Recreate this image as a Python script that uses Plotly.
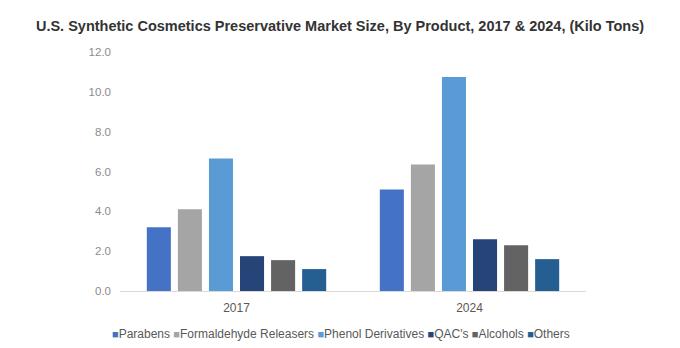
import plotly.graph_objects as go

years = ["2017", "2024"]
products = ["Parabens", "Formaldehyde Releasers", "Phenol Derivatives", "QAC's", "Alcohols", "Others"]
parabens = [3.2, 5.1]
formaldehyde = [4.1, 6.35]
phenol = [6.65, 10.75]
qacs = [1.75, 2.6]
alcohols = [1.55, 2.3]
others = [1.1, 1.6]
colors = ["#4472C4", "#A5A5A5", "#5B9BD5", "#264478", "#636363", "#255E91"]
yticks = [0, 2, 4, 6, 8, 10, 12]
title = "U.S. Synthetic Cosmetics Preservative Market Size, By Product, 2017 & 2024, (Kilo Tons)"

series = [parabens, formaldehyde, phenol, qacs, alcohols, others]

fig = go.Figure()
for name, vals, col in zip(products, series, colors):
    fig.add_trace(go.Bar(x=years, y=vals, name=name, marker=dict(color=col, line=dict(width=0)),
                         showlegend=False))

legend_text = " ".join(
    f"<span style='color:{c};font-size:11px'>■</span>{n}" for n, c in zip(products, colors)
)

fig.update_layout(
    width=680, height=348,
    margin=dict(l=120, r=94, t=52, b=57),
    paper_bgcolor="white", plot_bgcolor="white",
    barmode="group", bargap=0.2, bargroupgap=0.226,
    font=dict(family="Liberation Sans, Arial, sans-serif", size=11, color="#595959"),
    title=dict(text=f"<b>{title}</b>", x=0.5, xanchor="center", y=0.925, yanchor="middle",
               font=dict(size=14.5, color="#333333", family="Liberation Sans, Arial, sans-serif")),
    xaxis=dict(showline=True, linecolor="#D9D9D9", linewidth=1, ticks="", showgrid=False,
               ticklabelstandoff=6, tickfont=dict(size=12, color="#595959")),
    yaxis=dict(range=[0, 12], tickvals=yticks, tickformat=".1f", showgrid=False, zeroline=False,
               showline=False, ticks="", ticklabelstandoff=8,
               tickfont=dict(size=11.5, color="#8C8C8C")),
    annotations=[dict(text=legend_text, xref="paper", yref="paper", x=0.474, y=-0.178,
                      xanchor="center", yanchor="middle", showarrow=False,
                      font=dict(size=12, color="#595959"))],
)

fig.write_html("out.html")
